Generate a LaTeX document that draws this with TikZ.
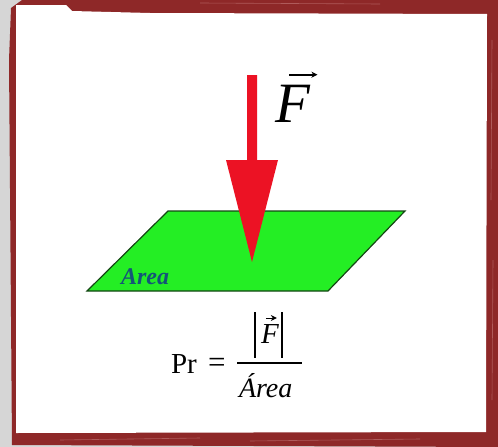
\documentclass[tikz,border=0pt]{standalone}
\usepackage{fontspec}
\setmainfont{Liberation Serif}
\usetikzlibrary{arrows.meta}
\definecolor{framered}{RGB}{142,40,40}
\definecolor{streak}{RGB}{175,90,90}
\definecolor{bggrey}{RGB}{214,214,214}
\definecolor{planegreen}{RGB}{36,238,36}
\definecolor{planeedge}{RGB}{20,70,20}
\definecolor{arrowred}{RGB}{236,18,36}
\definecolor{areablue}{RGB}{20,85,120}
\tikzset{
  txt/.style={inner sep=0pt, outer sep=0pt, anchor=base west, text=black},
  vecarrow/.style={line width=#1, -{Stealth[length=6pt,width=6pt]}},
}
\begin{document}
\begin{tikzpicture}[x=1pt,y=-1pt]
\useasboundingbox (0,0) rectangle (498,447);
% background and frame
\fill[bggrey] (0,0) rectangle (498,447);
\fill[framered] (22,0) -- (498,0) -- (498,447) -- (12,445) -- (9,60) -- (11,8) -- cycle;
\fill[white] (16,5) -- (66,5) -- (72,11) -- (150,13) -- (487,14) -- (486,432) -- (16,433) -- cycle;
\draw[streak, line width=0.6] (60,440) -- (200,438) (250,441) -- (420,439) (492,40) -- (491,200) (493,260) -- (492,400) (200,3) -- (380,4);
% plane
\filldraw[fill=planegreen, draw=planeedge, line width=1.2pt] (168,211) -- (405,211) -- (328,291) -- (87,291) -- cycle;
\node[txt, font=\fontsize{24}{24}\selectfont\bfseries\itshape, text=areablue] (arealabel) at (121,284) {Area};
% force arrow
\fill[arrowred] (247,75) -- (257,75) -- (257,160) -- (278,160) -- (252,262) -- (226,160) -- (247,160) -- cycle;
% F label
\node[txt, font=\fontsize{57}{57}\selectfont\itshape] (flabel) at (275,122) {F};
\draw[vecarrow=2pt] ([xshift=-3pt,yshift=10pt]flabel.north) -- ([xshift=25pt,yshift=10pt]flabel.north);
% formula
\node[txt, font=\fontsize{29}{29}\selectfont] (prlabel) at (171,373) {Pr};
\node[txt, font=\fontsize{31}{31}\selectfont] (eqlabel) at (208,372) {=};
\coordinate (barl) at (237,363);
\coordinate (barr) at (302,363);
\draw[line width=1.2pt] (barl) -- (barr);
\coordinate (abs1t) at (255,312);
\coordinate (abs1b) at (255,358);
\coordinate (abs2t) at (282,312);
\coordinate (abs2b) at (282,358);
\draw[line width=1.5pt] (abs1t) -- (abs1b) (abs2t) -- (abs2b);
\node[txt, font=\fontsize{29}{29}\selectfont\itshape] (fnum) at (261,343) {F};
\draw[vecarrow=1pt] ([xshift=-4pt,yshift=6pt]fnum.north) -- ([xshift=7pt,yshift=6pt]fnum.north);
\node[txt, font=\fontsize{28}{28}\selectfont\itshape] (areaden) at (239,397) {Área};
\end{tikzpicture}
\end{document}
